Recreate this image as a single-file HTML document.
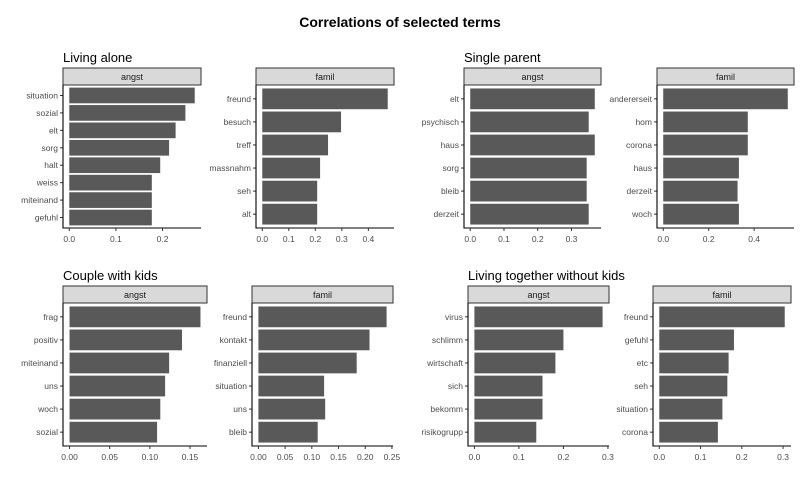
<!DOCTYPE html>
<html><head><meta charset="utf-8"><style>
html,body{margin:0;padding:0;background:#fff;}
svg{display:block;font-family:"Liberation Sans",Arial,sans-serif;}
</style></head><body>
<svg id="c" width="800" height="480" viewBox="0 0 800 480" xmlns="http://www.w3.org/2000/svg">
<rect width="800" height="480" fill="#fff"/>
<text x="400" y="27" text-anchor="middle" font-size="14" font-weight="bold" fill="#000">Correlations of selected terms</text>
</svg>
<script>
// ---- data ----
const groupTitles = ["Living alone","Single parent","Couple with kids","Living together without kids"];
const facetNames = ["angst","famil"];
const termsAloneAngst = ["situation","sozial","elt","sorg","halt","weiss","miteinand","gefuhl"];
const valsAloneAngst = [0.269,0.249,0.228,0.214,0.195,0.177,0.177,0.177];
const termsAloneFamil = ["freund","besuch","treff","massnahm","seh","alt"];
const valsAloneFamil = [0.473,0.297,0.248,0.218,0.207,0.207];
const termsSingleAngst = ["elt","psychisch","haus","sorg","bleib","derzeit"];
const valsSingleAngst = [0.369,0.351,0.369,0.345,0.345,0.351];
const termsSingleFamil = ["andererseit","hom","corona","haus","derzeit","woch"];
const valsSingleFamil = [0.548,0.372,0.372,0.333,0.327,0.333];
const termsCoupleAngst = ["frag","positiv","miteinand","uns","woch","sozial"];
const valsCoupleAngst = [0.163,0.140,0.124,0.119,0.113,0.109];
const termsCoupleFamil = ["freund","kontakt","finanziell","situation","uns","bleib"];
const valsCoupleFamil = [0.240,0.208,0.184,0.123,0.125,0.111];
const termsTogetherAngst = ["virus","schlimm","wirtschaft","sich","bekomm","risikogrupp"];
const valsTogetherAngst = [0.288,0.200,0.182,0.153,0.153,0.139];
const termsTogetherFamil = ["freund","gefuhl","etc","seh","situation","corona"];
const valsTogetherFamil = [0.304,0.181,0.168,0.165,0.153,0.142];
const ticksAloneAngst = [0,0.1,0.2];
const ticksAloneFamil = [0,0.1,0.2,0.3,0.4];
const ticksSingleAngst = [0,0.1,0.2,0.3];
const ticksSingleFamil = [0,0.2,0.4];
const ticksCoupleAngst = [0,0.05,0.10,0.15];
const ticksCoupleFamil = [0,0.05,0.10,0.15,0.20,0.25];
const ticksTogetherAngst = [0,0.1,0.2,0.3];
const ticksTogetherFamil = [0,0.1,0.2,0.3];
const tickDigits = [1,1,1,1,2,2,1,1];

// ---- layout ----
const NS="http://www.w3.org/2000/svg";
const svg=document.getElementById('c');
function mk(tag,attrs,parent){const e=document.createElementNS(NS,tag);for(const k in attrs)e.setAttribute(k,attrs[k]);(parent||svg).appendChild(e);return e;}
const panels=[
 {g:0,f:0,L:63,R:201,top:85,terms:termsAloneAngst,vals:valsAloneAngst,ticks:ticksAloneAngst},
 {g:0,f:1,L:256,R:394,top:85,terms:termsAloneFamil,vals:valsAloneFamil,ticks:ticksAloneFamil},
 {g:1,f:0,L:464,R:601,top:85,terms:termsSingleAngst,vals:valsSingleAngst,ticks:ticksSingleAngst},
 {g:1,f:1,L:657,R:794,top:85,terms:termsSingleFamil,vals:valsSingleFamil,ticks:ticksSingleFamil},
 {g:2,f:0,L:63,R:207,top:303,terms:termsCoupleAngst,vals:valsCoupleAngst,ticks:ticksCoupleAngst},
 {g:2,f:1,L:252,R:393,top:303,terms:termsCoupleFamil,vals:valsCoupleFamil,ticks:ticksCoupleFamil},
 {g:3,f:0,L:468,R:609,top:303,terms:termsTogetherAngst,vals:valsTogetherAngst,ticks:ticksTogetherAngst},
 {g:3,f:1,L:653,R:791,top:303,terms:termsTogetherFamil,vals:valsTogetherFamil,ticks:ticksTogetherFamil}
];
const H=143, stripH=17;
const titlePos=[[63,62],[464,62],[63,280],[468,280]];
groupTitles.forEach((t,i)=>{
  const e=mk('text',{x:titlePos[i][0],y:titlePos[i][1],'font-size':13,fill:'#000'});
  
  
  e.textContent=t;
});
panels.forEach((p,pi)=>{
  const g=mk('g',{});
  
  
  const W=p.R-p.L, max=Math.max(...p.vals);
  const xs=v=>p.L+W*(0.05/1.1)+v*W/(1.1*max);
  const n=p.terms.length, band=H/(n+0.2);
  const yc=i=>p.top+band*(0.1+i+0.5);
  const s=mk('rect',{x:p.L,y:p.top-stripH,width:W,height:stripH,fill:'#d9d9d9',stroke:'#333','stroke-width':1},g);
  
  
  const st=mk('text',{x:p.L+W/2,y:p.top-5,'text-anchor':'middle','font-size':9,fill:'#1a1a1a'},g);
  
  
  st.textContent=facetNames[p.f];
  p.vals.forEach((v,i)=>{
    const b=mk('rect',{x:xs(0),y:yc(i)-band*0.45,width:xs(v)-xs(0),height:band*0.9,fill:'#595959'},g);
    
    
    mk('line',{x1:p.L-3,x2:p.L,y1:yc(i),y2:yc(i),stroke:'#333','stroke-width':1},g);
    const l=mk('text',{x:p.L-5,y:yc(i)+3,'text-anchor':'end','font-size':8.5,fill:'#4d4d4d'},g);
    
    
    l.textContent=p.terms[i];
  });
  const ax=mk('path',{d:`M${p.L},${p.top} V${p.top+H} H${p.R}`,fill:'none',stroke:'#000','stroke-width':1.1},g);
  
  
  p.ticks.forEach(t=>{
    const x=xs(t);
    mk('line',{x1:x,x2:x,y1:p.top+H,y2:p.top+H+3,stroke:'#333','stroke-width':1},g);
    const tl=mk('text',{x:x,y:p.top+H+14,'text-anchor':'middle','font-size':8.5,fill:'#4d4d4d'},g);
    
    
    tl.textContent=t.toFixed(tickDigits[pi]);
  });
});
</script>
</body></html>
